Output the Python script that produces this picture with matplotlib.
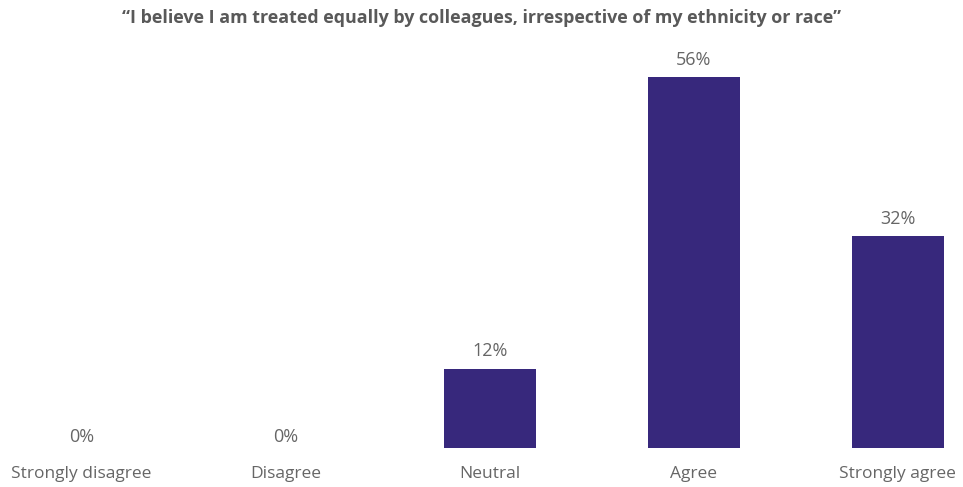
import matplotlib
matplotlib.use("Agg")
import matplotlib.pyplot as plt
import numpy as np

categories = ['Strongly disagree', 'Disagree', 'Neutral', 'Agree', 'Strongly agree']
percentages = [0, 0, 12, 56, 32]
title = '\u201cI believe I am treated equally by colleagues, irrespective of my ethnicity or race\u201d'

plt.rcParams['font.family'] = ['Open Sans', 'DejaVu Sans']

fig = plt.figure(figsize=(9.63, 4.87), dpi=100)
ax = fig.add_axes([0, 39 / 487, 1, 408 / 487])

x = np.arange(len(categories))
bars = ax.bar(x, percentages, width=0.45, color='#37287c')

for bar, pct in zip(bars, percentages):
    # zero bars get their label sitting right on the baseline
    offset = 6 if pct > 0 else 1.5
    ax.annotate(f'{pct}%', (bar.get_x() + bar.get_width() / 2, bar.get_height()),
                xytext=(0, offset), textcoords='offset points',
                ha='center', va='bottom', fontsize=13, color='#666666')

ax.set_xlim(-0.40, 4.32)
ax.set_ylim(0, 61.6)
ax.set_xticks(x)
ax.set_xticklabels(categories, fontsize=12.5, color='#666666')
ax.tick_params(axis='x', length=0, pad=13)
ax.set_yticks([])
for side in ['top', 'right', 'left', 'bottom']:
    ax.spines[side].set_visible(False)

fig.text(0.5, 1 - 18 / 487, title, ha='center', va='center',
         fontsize=12.9, fontweight='bold', color='#595959')

fig.savefig('out.png', dpi=100)
plt.close(fig)
